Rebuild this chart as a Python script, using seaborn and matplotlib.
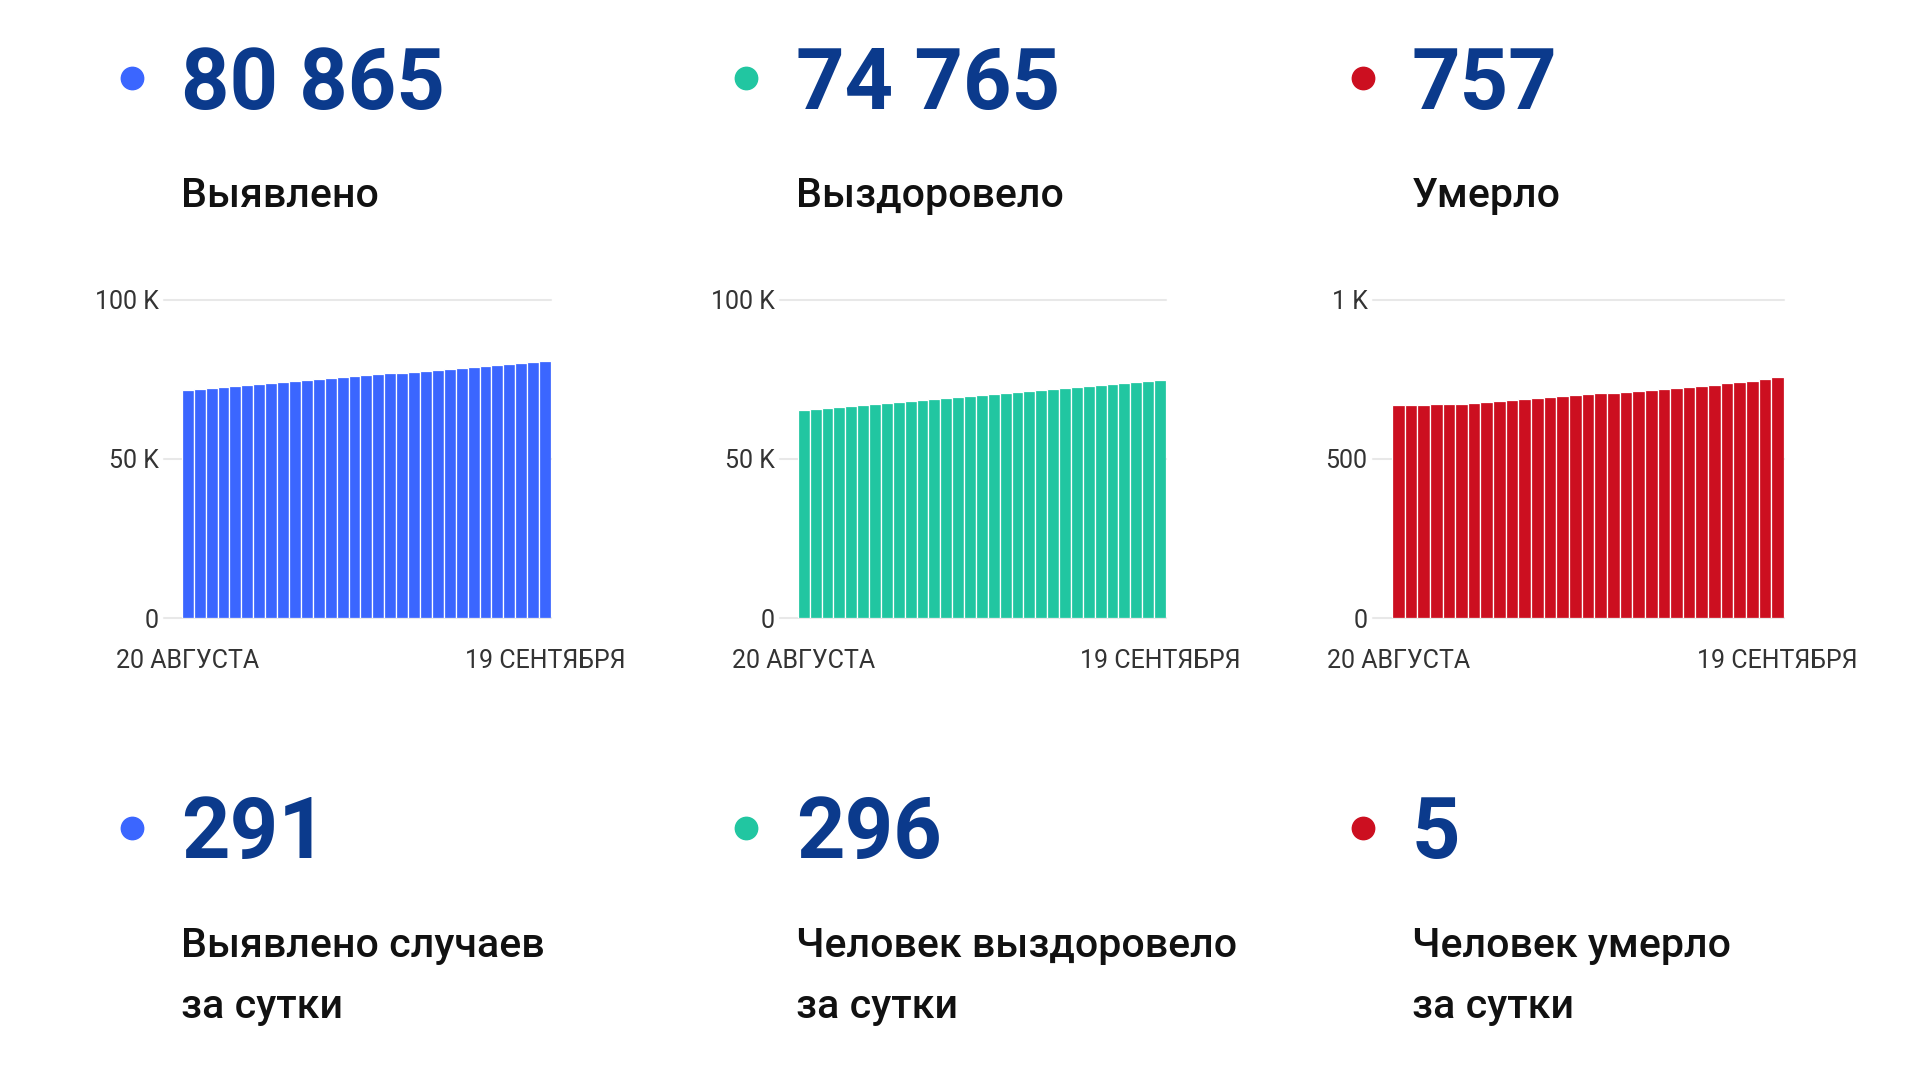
import matplotlib
matplotlib.use('Agg')
import matplotlib.pyplot as plt
import seaborn as sns
import pandas as pd
import numpy as np

# Daily cumulative totals, 20 Aug - 19 Sep (31 days)
days = list(range(31))
date_labels = ['20 АВГУСТА', '19 СЕНТЯБРЯ']

detected = [71620, 71930, 72240, 72550, 72860, 73170, 73480, 73790, 74100, 74410,
            74720, 75030, 75340, 75650, 75960, 76270, 76580, 76890, 77200, 77510,
            77820, 78130, 78440, 78750, 79060, 79370, 79680, 79990, 80290, 80574, 80865]
recovered = [65500, 65810, 66120, 66430, 66740, 67050, 67360, 67670, 67980, 68290,
             68600, 68910, 69220, 69530, 69840, 70150, 70460, 70770, 71080, 71390,
             71700, 72010, 72320, 72630, 72940, 73250, 73560, 73870, 74180, 74469, 74765]
died = [669, 670, 671, 672, 672, 673, 676, 679, 682, 685,
        688, 691, 694, 697, 700, 703, 706, 709, 712, 715,
        718, 721, 724, 727, 730, 734, 738, 742, 746, 752, 757]

totals = ['80 865', '74 765', '757']
total_labels = ['Выявлено', 'Выздоровело', 'Умерло']
daily = ['291', '296', '5']
daily_labels = [['Выявлено случаев', 'за сутки'],
                ['Человек выздоровело', 'за сутки'],
                ['Человек умерло', 'за сутки']]

y_ticks = [[0, 50000, 100000], [0, 50000, 100000], [0, 500, 1000]]
y_tick_labels = [['0', '50 K', '100 K'], ['0', '50 K', '100 K'], ['0', '500', '1 K']]

colors = ['#3b66ff', '#21c6a1', '#cc0f20']
navy = '#0b3a8c'

sns.set_style('white')
plt.rcParams['font.family'] = ['Roboto', 'DejaVu Sans']

W, H = 1920, 1080
fig = plt.figure(figsize=(19.2, 10.8), dpi=100)
fig.patch.set_facecolor('white')

# chart boxes in pixels: left, right (0 line at y=618, top grid at y=300)
boxes = [(164, 551), (780, 1166), (1373, 1784)]
col_x = [181, 796, 1412]
dot_x = [132, 746, 1363]

series = [detected, recovered, died]
for i, vals in enumerate(series):
    l, r = boxes[i]
    ax = fig.add_axes([l / W, 1 - 618 / H, (r - l) / W, 318 / H])
    df = pd.DataFrame({'day': days, 'value': vals})
    sns.barplot(data=df, x='day', y='value', color=colors[i], width=1.0,
                edgecolor='white', linewidth=0.9, saturation=1, ax=ax, zorder=3)
    ax.set_xlim(-2.0, 30.5)
    ax.set_ylim(0, y_ticks[i][-1])
    ax.set_yticks(y_ticks[i])
    ax.set_yticklabels(y_tick_labels[i], fontsize=18, color='#333333')
    ax.set_xticks([0, 30])
    ax.set_xticklabels(date_labels, fontsize=18, color='#333333')
    ax.tick_params(axis='x', length=0, pad=22)
    ax.tick_params(axis='y', length=0, pad=4)
    ax.set_xlabel('')
    ax.set_ylabel('')
    for t in y_ticks[i]:
        ax.axhline(t, color='#e8e8e8', linewidth=1.5, zorder=1, clip_on=False)
    for s in ax.spines.values():
        s.set_visible(False)
    ax.set_facecolor('none')

# overlay for numbers, dots and captions
ov = fig.add_axes([0, 0, 1, 1])
ov.set_xlim(0, W)
ov.set_ylim(H, 0)
ov.axis('off')
ov.set_facecolor('none')

for i in range(3):
    ov.scatter([dot_x[i], dot_x[i]], [78, 828], s=260, color=colors[i], zorder=5)
    ov.text(col_x[i], 109, totals[i], fontsize=61, fontweight='bold', color=navy,
            va='baseline', ha='left')
    ov.text(col_x[i], 207, total_labels[i], fontsize=29.6, fontweight='medium',
            color='#111111', va='baseline', ha='left')
    ov.text(col_x[i], 858, daily[i], fontsize=61, fontweight='bold', color=navy,
            va='baseline', ha='left')
    ov.text(col_x[i], 957, daily_labels[i][0], fontsize=29.6, fontweight='medium',
            color='#111111', va='baseline', ha='left')
    ov.text(col_x[i], 1018, daily_labels[i][1], fontsize=29.6, fontweight='medium',
            color='#111111', va='baseline', ha='left')

fig.savefig('out.png', dpi=100, facecolor='white')
